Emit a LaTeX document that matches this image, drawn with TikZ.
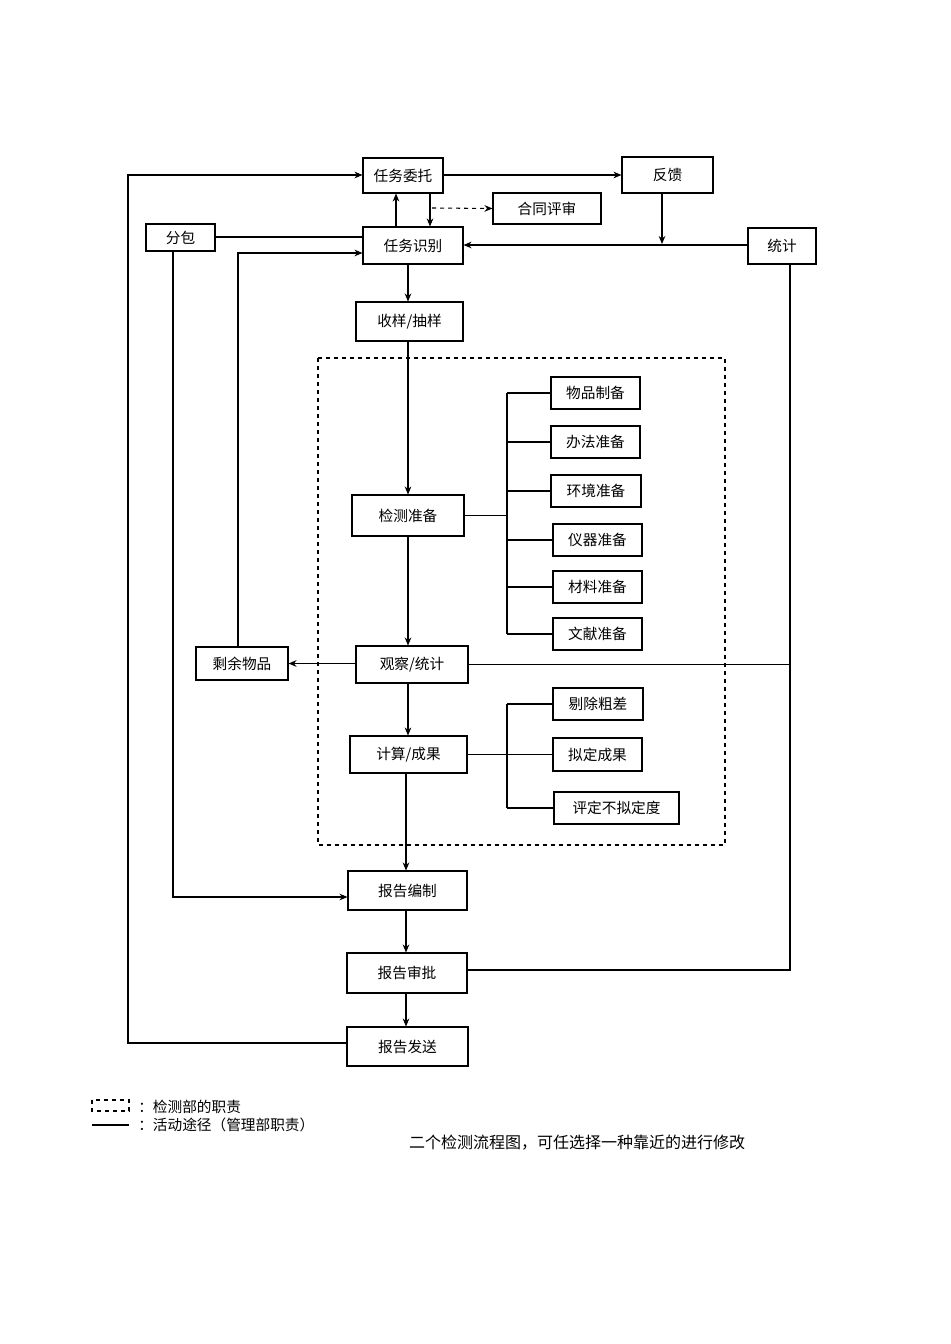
\documentclass[tikz,border=0pt]{standalone}
\usepackage{fontspec}
\setmainfont{Noto Sans CJK SC}
\usetikzlibrary{arrows.meta}
\begin{document}
\begin{tikzpicture}[x=0.75pt,y=-0.75pt,font=\fontsize{11}{13}\selectfont,
 arr/.style={-{Stealth[length=6pt,width=5pt]}},
 ln/.style={thick}]
\useasboundingbox (0,0) rectangle (950,1344);
\newcommand\bn[5]{\node[draw,thick,inner sep=0pt,minimum width=#3*0.75pt,minimum height=#4*0.75pt] (#1) at (#2) {#5};}
\bn{wt}{403,175.5}{80}{35}{任务委托}
\bn{fk}{667.5,175}{91}{36}{反馈}
\bn{ht}{547,208.5}{108}{31}{合同评审}
\bn{fb}{180.5,237.5}{69}{27}{分包}
\bn{sb}{413,245.5}{100}{37}{任务识别}
\bn{tj}{782,246}{68}{36}{统计}
\bn{sy}{409.5,321.5}{107}{39}{收样/抽样}
\draw[dashed,thick] (318,358) rectangle (725,845);
\bn{p1}{595.5,393}{89}{32}{物品制备}
\bn{p2}{595.5,442}{89}{32}{办法准备}
\bn{p3}{596,491}{90}{32}{环境准备}
\bn{p4}{597.5,540}{89}{32}{仪器准备}
\bn{p5}{597.5,587}{89}{32}{材料准备}
\bn{p6}{597.5,634}{89}{32}{文献准备}
\bn{jz}{408,515.5}{112}{41}{检测准备}
\bn{sw}{242,663.5}{92}{33}{剩余物品}
\bn{gc}{412,664.5}{112}{37}{观察/统计}
\bn{js}{408.5,754.5}{117}{37}{计算/成果}
\bn{q1}{598,704}{90}{32}{剔除粗差}
\bn{q2}{597.5,754.5}{89}{33}{拟定成果}
\bn{q3}{616.5,808}{125}{32}{评定不拟定度}
\bn{bz}{407.5,890.5}{119}{39}{报告编制}
\bn{sp}{407,973}{120}{40}{报告审批}
\bn{fs}{407.5,1046.5}{121}{39}{报告发送}
\draw[ln,arr] (fs.west|-0,1043) -- (128,1043) -- (128,175) -- (wt.west|-0,175);
\draw[ln,arr] (wt.east|-0,175) -- (fk.west|-0,175);
\draw[ln,arr] (fk.south-|662,0) -- (662,244);
\draw[ln,arr] (tj.west|-0,245) -- (sb.east|-0,245);
\draw[ln,arr] (sb.north-|396,0) -- (wt.south-|396,0);
\draw[ln,arr] (wt.south-|430,0) -- (sb.north-|430,0);
\draw[ln,dashed,arr] (432,208) -- (ht.west);
\draw[ln] (fb.east|-0,237) -- (sb.west|-0,237);
\draw[ln,arr] (fb.south-|173,0) -- (173,897) -- (bz.west|-0,897);
\draw[ln,arr] (sb.south-|408,0) -- (sy.north-|408,0);
\draw[ln,arr] (sy.south-|408,0) -- (jz.north-|408,0);
\draw[ln] (jz.east) -- (507,515.5);
\draw[ln] (507,393) -- (507,634);
\foreach \n in {p1,p2,p3,p4,p5,p6} \draw[ln] (507,0|-\n.west) -- (\n.west);
\draw[ln,arr] (jz.south-|408,0) -- (gc.north-|408,0);
\draw[ln,arr] (gc.west|-0,663.5) -- (sw.east);
\draw[ln,arr] (sw.north-|238,0) -- (238,253) -- (sb.west|-0,253);
\draw[ln] (gc.east) -- (790,664.5);
\draw[ln] (tj.south-|790,0) -- (790,970) -- (sp.east|-0,970);
\draw[ln,arr] (gc.south-|408,0) -- (js.north-|408,0);
\draw[ln] (js.east) -- (507,754.5);
\draw[ln] (507,704) -- (507,808);
\foreach \n in {q1,q2,q3} \draw[ln] (507,0|-\n.west) -- (\n.west);
\draw[ln,arr] (js.south-|406,0) -- (bz.north-|406,0);
\draw[ln,arr] (bz.south-|406,0) -- (sp.north-|406,0);
\draw[ln,arr] (sp.south-|406,0) -- (fs.north-|406,0);
\draw[dashed,thick] (92,1100) rectangle (129,1111);
\node[anchor=west,inner sep=0pt] (l1) at (138,1107) {：检测部的职责};
\draw[ln] (92,1125) -- (129,1125);
\node[anchor=west,inner sep=0pt] (l2) at (138,1125) {：活动途径（管理部职责）};
\node[inner sep=0pt,font=\fontsize{12}{14}\selectfont] (ft) at (577,1143) {二个检测流程图，可任选择一种靠近的进行修改};
\end{tikzpicture}
\end{document}
